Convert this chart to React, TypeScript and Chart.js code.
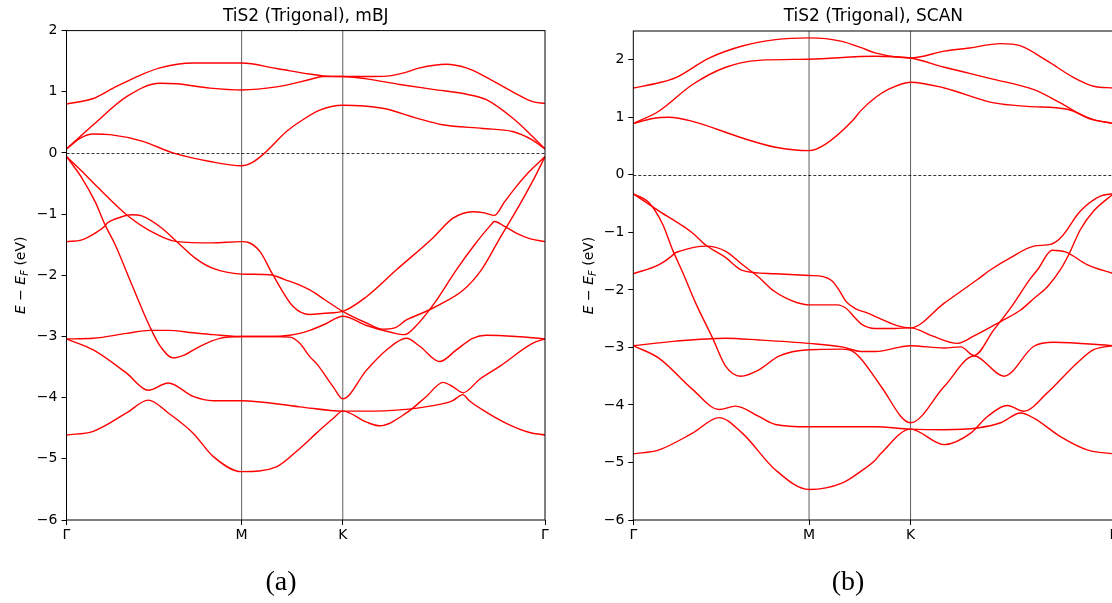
import React, { useEffect, useRef } from "react";
import { Chart, registerables } from "chart.js";
Chart.register(...registerables);

// k-path positions (hexagonal BZ): Γ – M – K – Γ
const kTicks = [0, 1, 1.5774, 2.7321];
const kLabels = ["Γ", "M", "K", "Γ"];
const yTicksA = [-6, -5, -4, -3, -2, -1, 0, 1, 2];
const yTicksB = [-6, -5, -4, -3, -2, -1, 0, 1, 2];

type Pt = [number, number];

// ---------- (a) mBJ ----------
const mbjC3: Pt[] = [[0,0.80],[0.153,0.89],[0.267,1.06],[0.381,1.22],[0.533,1.39],[0.723,1.47],[1.0,1.47],[1.199,1.38],[1.389,1.29],[1.463,1.26],[1.577,1.25],[1.749,1.25],[1.845,1.26],[1.941,1.32],[2.017,1.39],[2.169,1.45],[2.283,1.39],[2.376,1.27],[2.547,1.00],[2.661,0.84],[2.732,0.81]];
const mbjC2: Pt[] = [[0,0.065],[0.153,0.46],[0.343,0.92],[0.533,1.14],[0.629,1.13],[0.819,1.06],[1.0,1.03],[1.199,1.08],[1.389,1.20],[1.463,1.25],[1.577,1.25],[1.713,1.21],[1.903,1.12],[2.092,1.04],[2.283,0.96],[2.397,0.87],[2.547,0.57],[2.661,0.27],[2.732,0.065]];
const mbjC1: Pt[] = [[0,0.065],[0.077,0.24],[0.153,0.31],[0.248,0.30],[0.436,0.19],[0.608,0.0],[0.819,-0.14],[1.0,-0.21],[1.064,-0.15],[1.132,0.0],[1.256,0.35],[1.332,0.51],[1.446,0.70],[1.577,0.78],[1.805,0.73],[1.998,0.57],[2.148,0.46],[2.376,0.40],[2.547,0.35],[2.661,0.21],[2.732,0.065]];
const mbjV1: Pt[] = [[0,-0.06],[0.088,-0.30],[0.164,-0.52],[0.355,-1.04],[0.469,-1.26],[0.630,-1.45],[0.830,-1.47],[1.0,-1.45],[1.035,-1.46],[1.104,-1.61],[1.178,-1.99],[1.294,-2.51],[1.389,-2.64],[1.475,-2.62],[1.577,-2.59],[1.713,-2.35],[1.884,-1.91],[2.092,-1.39],[2.205,-1.07],[2.319,-0.96],[2.387,-0.98],[2.444,-1.02],[2.501,-0.80],[2.568,-0.55],[2.644,-0.30],[2.732,-0.06]];
const mbjV2: Pt[] = [[0,-1.45],[0.088,-1.42],[0.164,-1.31],[0.221,-1.19],[0.231,-1.15],[0.278,-1.08],[0.374,-1.01],[0.430,-1.03],[0.545,-1.23],[0.630,-1.45],[0.735,-1.72],[0.830,-1.88],[1.0,-1.98],[1.161,-1.99],[1.246,-2.07],[1.332,-2.16],[1.389,-2.24],[1.475,-2.40],[1.577,-2.59],[1.713,-2.78],[1.805,-2.88],[1.874,-2.86],[1.941,-2.73],[2.045,-2.60],[2.131,-2.48],[2.262,-2.25],[2.369,-1.91],[2.473,-1.40],[2.587,-0.85],[2.673,-0.40],[2.732,-0.06]];
const mbjV3: Pt[] = [[0,-0.06],[0.088,-0.41],[0.164,-0.80],[0.221,-1.18],[0.278,-1.50],[0.374,-2.16],[0.476,-2.84],[0.533,-3.15],[0.608,-3.35],[0.676,-3.30],[0.762,-3.16],[0.876,-3.03],[1.0,-3.0],[1.161,-3.0],[1.275,-3.01],[1.332,-3.11],[1.389,-3.33],[1.427,-3.44],[1.522,-3.82],[1.577,-4.02],[1.713,-3.55],[1.827,-3.22],[1.941,-3.03],[2.017,-3.16],[2.131,-3.41],[2.226,-3.22],[2.319,-3.03],[2.397,-2.98],[2.568,-3.0],[2.732,-3.04]];
const mbjV4: Pt[] = [[0,-3.04],[0.153,-3.03],[0.343,-2.95],[0.476,-2.90],[0.581,-2.90],[0.723,-2.94],[0.837,-2.97],[1.0,-3.0],[1.161,-3.0],[1.275,-2.98],[1.332,-2.95],[1.389,-2.90],[1.475,-2.80],[1.577,-2.67],[1.713,-2.82],[1.863,-2.94],[1.931,-2.97],[1.988,-2.85],[2.102,-2.45],[2.226,-1.91],[2.330,-1.50],[2.416,-1.20],[2.444,-1.12],[2.501,-1.20],[2.568,-1.31],[2.644,-1.40],[2.732,-1.45]];
const mbjV5: Pt[] = [[0,-3.04],[0.153,-3.22],[0.343,-3.60],[0.467,-3.88],[0.581,-3.76],[0.723,-3.98],[0.837,-4.05],[1.0,-4.05],[1.332,-4.15],[1.577,-4.22],[1.713,-4.22],[1.903,-4.20],[2.092,-4.13],[2.205,-4.05],[2.245,-3.97],[2.262,-3.95],[2.300,-4.05],[2.376,-4.20],[2.511,-4.42],[2.644,-4.57],[2.732,-4.61]];
const mbjV6: Pt[] = [[0,-4.61],[0.153,-4.55],[0.343,-4.25],[0.467,-4.04],[0.581,-4.25],[0.723,-4.58],[0.837,-4.96],[1.0,-5.21],[1.199,-5.13],[1.332,-4.83],[1.427,-4.58],[1.522,-4.34],[1.577,-4.22],[1.713,-4.40],[1.788,-4.46],[1.941,-4.25],[2.055,-3.98],[2.150,-3.75],[2.205,-3.82],[2.264,-3.92],[2.359,-3.70],[2.473,-3.49],[2.663,-3.11],[2.732,-3.04]];

// ---------- (b) SCAN ----------
const scanC3: Pt[] = [[0,1.51],[0.147,1.60],[0.242,1.69],[0.431,2.03],[0.620,2.24],[0.809,2.35],[1.0,2.38],[1.187,2.32],[1.296,2.21],[1.376,2.12],[1.577,2.03],[1.769,2.15],[1.901,2.20],[2.090,2.28],[2.204,2.24],[2.355,1.98],[2.506,1.69],[2.619,1.54],[2.732,1.51]];
const scanC2: Pt[] = [[0,0.89],[0.147,1.11],[0.337,1.57],[0.526,1.87],[0.714,1.99],[1.0,2.01],[1.376,2.06],[1.577,2.03],[1.769,1.87],[2.052,1.66],[2.279,1.48],[2.430,1.25],[2.582,0.99],[2.732,0.89]];
const scanC1: Pt[] = [[0,0.89],[0.110,0.98],[0.204,1.00],[0.337,0.93],[0.620,0.64],[0.809,0.48],[1.0,0.42],[1.092,0.53],[1.244,0.93],[1.296,1.12],[1.376,1.34],[1.448,1.48],[1.577,1.61],[1.769,1.51],[2.052,1.25],[2.241,1.19],[2.468,1.14],[2.619,0.96],[2.732,0.89]];
const scanV1: Pt[] = [[0,-0.33],[0.147,-0.63],[0.337,-1.01],[0.412,-1.22],[0.526,-1.44],[0.620,-1.66],[0.809,-1.72],[1.0,-1.75],[1.08,-1.77],[1.13,-1.84],[1.17,-2.0],[1.21,-2.20],[1.26,-2.32],[1.33,-2.40],[1.42,-2.52],[1.50,-2.62],[1.577,-2.66],[1.769,-2.23],[1.958,-1.82],[2.033,-1.65],[2.147,-1.44],[2.279,-1.24],[2.374,-1.21],[2.430,-1.10],[2.544,-0.63],[2.657,-0.37],[2.732,-0.33]];
const scanV2: Pt[] = [[0,-1.72],[0.147,-1.56],[0.223,-1.40],[0.232,-1.37],[0.261,-1.33],[0.412,-1.24],[0.526,-1.33],[0.620,-1.56],[0.714,-1.78],[0.80,-2.02],[0.866,-2.14],[0.93,-2.22],[1.0,-2.26],[1.16,-2.26],[1.21,-2.32],[1.26,-2.48],[1.30,-2.60],[1.376,-2.67],[1.485,-2.67],[1.577,-2.66],[1.700,-2.80],[1.845,-2.93],[1.939,-2.80],[2.090,-2.55],[2.204,-2.35],[2.279,-2.15],[2.355,-1.95],[2.430,-1.65],[2.477,-1.39],[2.544,-0.95],[2.619,-0.63],[2.732,-0.33]];
const scanV3: Pt[] = [[0,-0.33],[0.091,-0.49],[0.167,-0.86],[0.223,-1.30],[0.280,-1.69],[0.355,-2.23],[0.450,-2.83],[0.526,-3.33],[0.611,-3.50],[0.714,-3.39],[0.828,-3.15],[1.0,-3.04],[1.187,-3.03],[1.244,-3.06],[1.296,-3.20],[1.376,-3.53],[1.410,-3.68],[1.577,-4.31],[1.769,-3.68],[1.939,-3.15],[2.109,-3.50],[2.279,-2.98],[2.392,-2.91],[2.732,-2.97]];
const scanV4: Pt[] = [[0,-2.97],[0.242,-2.89],[0.526,-2.84],[0.714,-2.87],[1.0,-2.93],[1.187,-2.99],[1.296,-3.07],[1.376,-3.07],[1.577,-2.97],[1.769,-3.01],[1.863,-2.99],[1.939,-3.14],[2.050,-2.70],[2.150,-2.30],[2.260,-1.80],[2.300,-1.65],[2.383,-1.31],[2.459,-1.34],[2.582,-1.56],[2.732,-1.72]];
const scanV5: Pt[] = [[0,-2.97],[0.147,-3.19],[0.337,-3.73],[0.488,-4.08],[0.582,-4.02],[0.714,-4.20],[0.809,-4.34],[1.0,-4.38],[1.376,-4.38],[1.577,-4.42],[1.769,-4.43],[1.958,-4.40],[2.090,-4.31],[2.204,-4.14],[2.279,-4.23],[2.430,-4.55],[2.582,-4.78],[2.732,-4.85]];
const scanV6: Pt[] = [[0,-4.85],[0.147,-4.78],[0.337,-4.49],[0.488,-4.22],[0.620,-4.49],[0.809,-5.13],[1.0,-5.47],[1.187,-5.36],[1.296,-5.15],[1.376,-4.96],[1.410,-4.84],[1.577,-4.42],[1.769,-4.69],[1.920,-4.49],[2.015,-4.20],[2.128,-4.01],[2.222,-4.11],[2.355,-3.79],[2.525,-3.27],[2.619,-3.04],[2.732,-2.97]];

const bandsA = [mbjC3, mbjC2, mbjC1, mbjV1, mbjV2, mbjV3, mbjV4, mbjV5, mbjV6];
const bandsB = [scanC3, scanC2, scanC1, scanV1, scanV2, scanV3, scanV4, scanV5, scanV6];

const FONT = '"DejaVu Sans", sans-serif';
const TICK_SIZE = 14;
const TITLE_SIZE = 17;
const fmt = (v: number) => (v < 0 ? "\u2212" + Math.abs(v) : String(v));

function makeOverlay(title: string, labelX: number) {
  return {
    id: "overlay",
    beforeDatasetsDraw(chart: any) {
      const { ctx, chartArea: a, scales } = chart;
      ctx.save();
      ctx.beginPath();
      ctx.rect(a.left, a.top, a.right - a.left, a.bottom - a.top);
      ctx.clip();
      ctx.strokeStyle = "rgba(0,0,0,0.8)";
      ctx.lineWidth = 0.8;
      [kTicks[1], kTicks[2]].forEach((k) => {
        const px = scales.x.getPixelForValue(k);
        ctx.beginPath();
        ctx.moveTo(px, a.top);
        ctx.lineTo(px, a.bottom);
        ctx.stroke();
      });
      const py = Math.round(scales.y.getPixelForValue(0)) + 0.5;
      ctx.setLineDash([3, 2]);
      ctx.lineWidth = 0.8;
      ctx.strokeStyle = "#000";
      ctx.beginPath();
      ctx.moveTo(a.left, py);
      ctx.lineTo(a.right, py);
      ctx.stroke();
      ctx.restore();
    },
    afterDraw(chart: any) {
      const { ctx, chartArea: a } = chart;
      ctx.save();
      ctx.strokeStyle = "#000";
      ctx.lineWidth = 1;
      ctx.strokeRect(a.left, a.top, a.right - a.left, a.bottom - a.top);
      // title
      ctx.fillStyle = "#000";
      ctx.font = TITLE_SIZE + "px " + FONT;
      ctx.textAlign = "center";
      ctx.textBaseline = "alphabetic";
      ctx.fillText(title, (a.left + a.right) / 2, 21);
      // y label: E − E_F (eV)
      const parts = [
        { t: "E", f: "italic 14px " + FONT, dy: 0 },
        { t: " \u2212 ", f: "14px " + FONT, dy: 0 },
        { t: "E", f: "italic 14px " + FONT, dy: 0 },
        { t: "F", f: "italic 10px " + FONT, dy: 3 },
        { t: " (eV)", f: "14px " + FONT, dy: 0 },
      ];
      let total = 0;
      const widths = parts.map((p) => {
        ctx.font = p.f;
        const w = ctx.measureText(p.t).width;
        total += w;
        return w;
      });
      ctx.translate(labelX, (a.top + a.bottom) / 2);
      ctx.rotate(-Math.PI / 2);
      ctx.textAlign = "left";
      ctx.textBaseline = "alphabetic";
      let x = -total / 2;
      parts.forEach((p, i) => {
        ctx.font = p.f;
        ctx.fillText(p.t, x, 5 + p.dy);
        x += widths[i];
      });
      ctx.restore();
    },
  };
}

function makeConfig(bands: Pt[][], yMin: number, yMax: number, yTicks: number[], title: string,
  pad: { top: number; right: number }, yWidth: number, labelX: number): any {
  return {
    type: "line",
    data: {
      datasets: bands.map((b) => ({
        data: b.map(([x, y]) => ({ x, y })),
        borderColor: "#ff0000",
        borderWidth: 1.4,
        pointRadius: 0,
        fill: false,
        cubicInterpolationMode: "monotone",
      })),
    },
    options: {
      animation: false,
      responsive: false,
      events: [],
      layout: { padding: { left: 0, top: pad.top, right: pad.right, bottom: 0 } },
      plugins: { legend: { display: false }, tooltip: { enabled: false }, title: { display: false } },
      scales: {
        x: {
          type: "linear",
          min: 0,
          max: kTicks[3],
          afterBuildTicks: (s: any) => { s.ticks = kTicks.map((v) => ({ value: v })); },
          afterFit: (s: any) => { s.height = 83; },
          ticks: {
            autoSkip: false,
            maxRotation: 0,
            padding: 2,
            color: "#000",
            font: { family: FONT, size: TICK_SIZE },
            callback: (_v: any, i: number) => kLabels[i],
          },
          grid: { display: true, drawOnChartArea: false, drawTicks: true, tickLength: 5, color: "#000", lineWidth: 1 },
          border: { display: false },
        },
        y: {
          type: "linear",
          min: yMin,
          max: yMax,
          afterBuildTicks: (s: any) => { s.ticks = yTicks.map((v) => ({ value: v })); },
          afterFit: (s: any) => { s.width = yWidth; },
          ticks: {
            padding: 4,
            color: "#000",
            font: { family: FONT, size: TICK_SIZE },
            callback: (v: any) => fmt(Number(v)),
          },
          grid: { display: true, drawOnChartArea: false, drawTicks: true, tickLength: 5, color: "#000", lineWidth: 1 },
          border: { display: false },
        },
      },
    },
    plugins: [makeOverlay(title, labelX)],
  };
}

function Panel(props: { cfg: () => any; left: number }) {
  const ref = useRef<HTMLCanvasElement | null>(null);
  useEffect(() => {
    if (!ref.current) return;
    const chart = new Chart(ref.current, props.cfg());
    return () => chart.destroy();
  }, []);
  return (
    <canvas
      ref={ref}
      width={560}
      height={603}
      style={{ position: "absolute", left: props.left, top: 0, width: 560, height: 603 }}
    />
  );
}

const captionStyle: React.CSSProperties = {
  position: "absolute",
  top: 562,
  width: 100,
  textAlign: "center",
  fontFamily: '"Liberation Serif", "DejaVu Serif", serif',
  fontSize: 28,
  lineHeight: "38px",
  color: "#000",
};

export default function App() {
  return (
    <div style={{ position: "fixed", left: 0, top: 0, width: 1112, height: 603, overflow: "hidden", background: "#fff" }}>
      <Panel left={0} cfg={() => makeConfig(bandsA, -6, 2, yTicksA, "TiS2 (Trigonal), mBJ", { top: 30.6, right: 15 }, 66.5, 20)} />
      <Panel left={566} cfg={() => makeConfig(bandsB, -6, 2.5, yTicksB, "TiS2 (Trigonal), SCAN", { top: 31, right: 12.5 }, 67.3, 21.5)} />
      <div style={{ ...captionStyle, left: 231 }}>(a)</div>
      <div style={{ ...captionStyle, left: 798 }}>(b)</div>
    </div>
  );
}
